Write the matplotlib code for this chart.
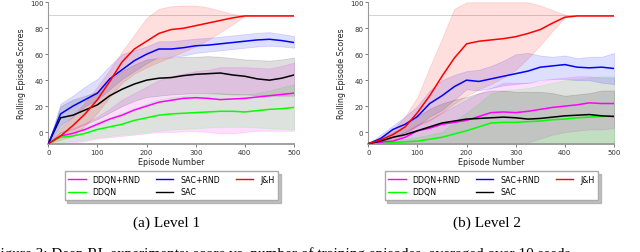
import matplotlib
matplotlib.use("Agg")
import matplotlib.pyplot as plt
from matplotlib.lines import Line2D

# --- episodes (x axis) --------------------------------------------------------
episodes = [0, 25, 50, 75, 100, 125, 150, 175, 200, 225, 250,
            275, 300, 325, 350, 375, 400, 425, 450, 475, 500]

# --- Level 1: mean / lower / upper -------------------------------------------
l1_jh = [-9, -3, 5, 14, 25, 39, 54, 64, 70, 76, 79, 80, 82, 84, 86, 88, 89.5, 89.5, 89.5, 89.5, 89.5]
l1_jh_lo = [-9, -6, -3, 5, 15, 27, 38, 45, 50, 54, 58, 62, 66, 71, 77, 83, 89.5, 89.5, 89.5, 89.5, 89.5]
l1_jh_hi = [-9, 3, 12, 23, 35, 48, 62, 75, 88, 95, 97, 97.5, 97.5, 96, 93.5, 91, 90, 89.5, 89.5, 89.5, 89.5]

l1_sacrnd = [-9, 14, 20, 25, 30, 41, 48, 55, 60, 64, 64, 65, 66.5, 67, 68, 69, 70, 71, 71.5, 70.5, 69]
l1_sacrnd_lo = [-9, 5, 12, 20, 25, 33, 41, 47, 53, 58, 58, 59, 61, 62, 63, 64, 65, 66, 66.5, 66, 65]
l1_sacrnd_hi = [-9, 22, 28, 35, 41, 51, 60, 63, 66, 70, 70, 71, 72, 72.5, 73.5, 74.5, 75.5, 76.5, 77, 75.5, 74]

l1_sac = [-9, 11, 13, 17, 21, 28, 33, 37, 40, 41.5, 42, 43.5, 44.5, 45, 45.5, 44, 43, 41, 40, 41.5, 44]
l1_sac_lo = [-9, 0, 2, 6, 10, 15, 20, 24, 27, 28, 29, 29.5, 30, 30, 29.5, 29, 29, 28.5, 28, 28, 28]
l1_sac_hi = [-9, 20, 25, 28, 31, 40, 47, 52, 56, 57, 57.5, 58, 58, 58.5, 58, 57, 56, 55.5, 55, 56, 57.5]

l1_ddqnrnd = [-9, -3, -1, 2, 6, 10, 13, 17, 20, 23, 24.5, 26, 26.5, 26, 25, 25.5, 26, 27, 28, 29, 30]
l1_ddqnrnd_lo = [-9, -9, -8, -7, -5, -4, -3, -2, -1, 0, 0, 0.5, 1, 0, -1, -1, 0, 1, 1, 1, 1]
l1_ddqnrnd_hi = [-9, 0, 3, 7, 12, 18, 25, 30, 35, 40, 43, 45, 47, 48, 50, 50, 50, 49.5, 49, 51, 53.5]

l1_ddqn = [-9, -4, -3, -1, 2, 4, 6, 9, 11, 13, 14, 14.5, 15, 15.5, 16, 16, 15.5, 16.5, 17.5, 18, 19]
l1_ddqn_lo = [-9, -8, -7, -6, -4, -3, -2, -1, 0, 1, 2, 2.5, 3, 3.5, 4, 4, 4, 3.5, 3, 2.5, 2]
l1_ddqn_hi = [-9, 0, 1, 4, 8, 11, 15, 18, 22, 25, 27, 28, 29, 29.5, 30, 29.5, 29, 30, 32, 34.5, 37]

# --- Level 2 ------------------------------------------------------------------
l2_jh = [-9, -6, -2, 4, 15, 28, 43, 57, 68, 70, 71, 72, 73.5, 76, 79, 84, 88.5, 89.5, 89.5, 89.5, 89.5]
l2_jh_lo = [-9, -8, -6, -2, 5, 9, 15, 22, 28, 33, 37, 42, 48, 57, 67, 78, 88.5, 89.5, 89.5, 89.5, 89.5]
l2_jh_hi = [-9, -4, 2, 12, 27, 50, 72, 95, 100, 100, 100, 100, 100, 100, 97.5, 94, 90.5, 89.5, 89.5, 89.5, 89.5]

l2_sacrnd = [-9, -5, 2, 6, 12, 22, 28, 35, 40, 39, 41, 43, 45, 47, 50, 51, 52, 50, 49.5, 50, 49]
l2_sacrnd_lo = [-9, -8, -4, 0, 5, 12, 17, 25, 33, 32, 34, 36, 37, 38, 40, 41, 41, 40, 40, 38, 37]
l2_sacrnd_hi = [-9, -2, 5, 12, 20, 32, 40, 44, 47, 48, 51, 55, 60, 61, 59, 58, 59, 57, 58, 58, 61]

l2_sac = [-9, -7, -4, -2, 1, 4, 7, 8.5, 10, 10.5, 11, 11.5, 11, 10, 10.5, 11.5, 12.5, 13, 13.5, 12.5, 12]
l2_sac_lo = [-9, -9, -10, -10, -10, -10, -10, -10, -10, -10, -10, -10, -10, -10, -10, -10, -10, -10, -10, -10, -10]
l2_sac_hi = [-9, -5, 0, 5, 12, 18, 22, 25, 27, 30, 32, 32, 31, 31, 31, 30, 28, 29, 30, 32, 32]

l2_ddqnrnd = [-9, -8, -7, -4, 1, 3, 6, 7.5, 9, 12, 15, 15.5, 15, 16, 17.5, 19, 20, 21, 22.5, 22, 22]
l2_ddqnrnd_lo = [-9, -10, -10, -10, -10, -10, -10, -10, -10, -10, -10, -10, -10, -8, -5, -2, 0, 1, 2, 2, 3]
l2_ddqnrnd_hi = [-9, -6, -4, 0, 6, 10, 15, 20, 25, 30, 34, 38, 38, 38, 39, 41, 42, 43, 43, 42, 42]

l2_ddqn = [-9, -9, -8, -7.5, -7, -5.5, -4, -1.5, 1, 4, 7, 7.5, 7.5, 8, 8.5, 9.5, 10, 11, 11.5, 12, 12.5]
l2_ddqn_lo = [-9, -10, -10, -10, -10, -10, -10, -10, -10, -10, -10, -10, -10, -10, -10, -10, -10, -10, -10, -10, -10]
l2_ddqn_hi = [-9, -8, -7, -5.5, -4, -2, 0, 8, 15, 22, 30, 32, 33, 34, 36, 38, 40, 41, 42, 43, 43]

TARGET = 90

labels = ["DDQN+RND", "DDQN", "SAC+RND", "SAC", "J&H"]
colors = {"DDQN+RND": "#ff00ff", "DDQN": "#00ff00", "SAC+RND": "#0000ff",
          "SAC": "#000000", "J&H": "#ff0000"}

level1 = {
    "DDQN+RND": (l1_ddqnrnd, l1_ddqnrnd_lo, l1_ddqnrnd_hi),
    "DDQN": (l1_ddqn, l1_ddqn_lo, l1_ddqn_hi),
    "SAC": (l1_sac, l1_sac_lo, l1_sac_hi),
    "SAC+RND": (l1_sacrnd, l1_sacrnd_lo, l1_sacrnd_hi),
    "J&H": (l1_jh, l1_jh_lo, l1_jh_hi),
}
level2 = {
    "DDQN+RND": (l2_ddqnrnd, l2_ddqnrnd_lo, l2_ddqnrnd_hi),
    "DDQN": (l2_ddqn, l2_ddqn_lo, l2_ddqn_hi),
    "SAC": (l2_sac, l2_sac_lo, l2_sac_hi),
    "SAC+RND": (l2_sacrnd, l2_sacrnd_lo, l2_sacrnd_hi),
    "J&H": (l2_jh, l2_jh_lo, l2_jh_hi),
}

fig = plt.figure(figsize=(6.4, 2.53), dpi=100)


def draw_panel(ax, data):
    ax.axhline(TARGET, color="#cccccc", lw=0.6, zorder=1)
    for name, (mean, lo, hi) in data.items():
        c = colors[name]
        ax.fill_between(episodes, lo, hi, color=c, alpha=0.13, lw=0.6,
                        edgecolor=c, zorder=2)
        ax.plot(episodes, mean, color=c, lw=1.1, zorder=3)
    ax.set_xlim(0, 500)
    ax.set_ylim(-9.2, 100)
    ax.set_xticks([0, 100, 200, 300, 400, 500])
    ax.set_yticks([0, 20, 40, 60, 80, 100])
    for s in ["top", "right"]:
        ax.spines[s].set_visible(False)
    for s in ["left", "bottom"]:
        ax.spines[s].set_color("#999999")
    ax.spines["bottom"].set_linewidth(1.3)
    ax.spines["left"].set_linewidth(0.8)
    ax.tick_params(labelsize=5, length=2, width=0.6, pad=1.5,
                   color="#666666", labelcolor="#333333")
    ax.set_xlabel("Episode Number", fontsize=5.8, labelpad=1.5, color="#222222")
    ax.set_ylabel("Rolling Episode Scores", fontsize=5.8, labelpad=3, color="#222222")
    handles = [Line2D([], [], color=colors[n], lw=1.0) for n in labels]
    ax.legend(handles, labels, loc="upper center", bbox_to_anchor=(0.5, -0.165),
              ncol=3, fontsize=5.7, frameon=True, fancybox=False,
              shadow={"color": "#999999", "alpha": 0.6},
              edgecolor="#aaaaaa", handlelength=2.2, handletextpad=0.85,
              columnspacing=2.0, borderpad=0.45, labelspacing=0.45)


ax1 = fig.add_axes([48.3 / 640, 108 / 253, 245.7 / 640, 141.7 / 253])
ax2 = fig.add_axes([368.3 / 640, 108 / 253, 245.7 / 640, 141.7 / 253])
draw_panel(ax1, level1)
draw_panel(ax2, level2)

serif = ["Liberation Serif", "DejaVu Serif"]
fig.text(167 / 640, 0.1016, "(a) Level 1", ha="center", va="baseline",
         fontsize=11, family=serif)
fig.text(487 / 640, 0.1016, "(b) Level 2", ha="center", va="baseline",
         fontsize=11, family=serif)
# caption runs past the bottom edge, as in the cropped original
fig.text(-8 / 640, -0.0198,
         "Figure 3: Deep RL experiments: score vs. number of training episodes, "
         "averaged over 10 seeds.", ha="left", va="baseline", fontsize=11, family=serif)

fig.savefig("out.png", dpi=100)
